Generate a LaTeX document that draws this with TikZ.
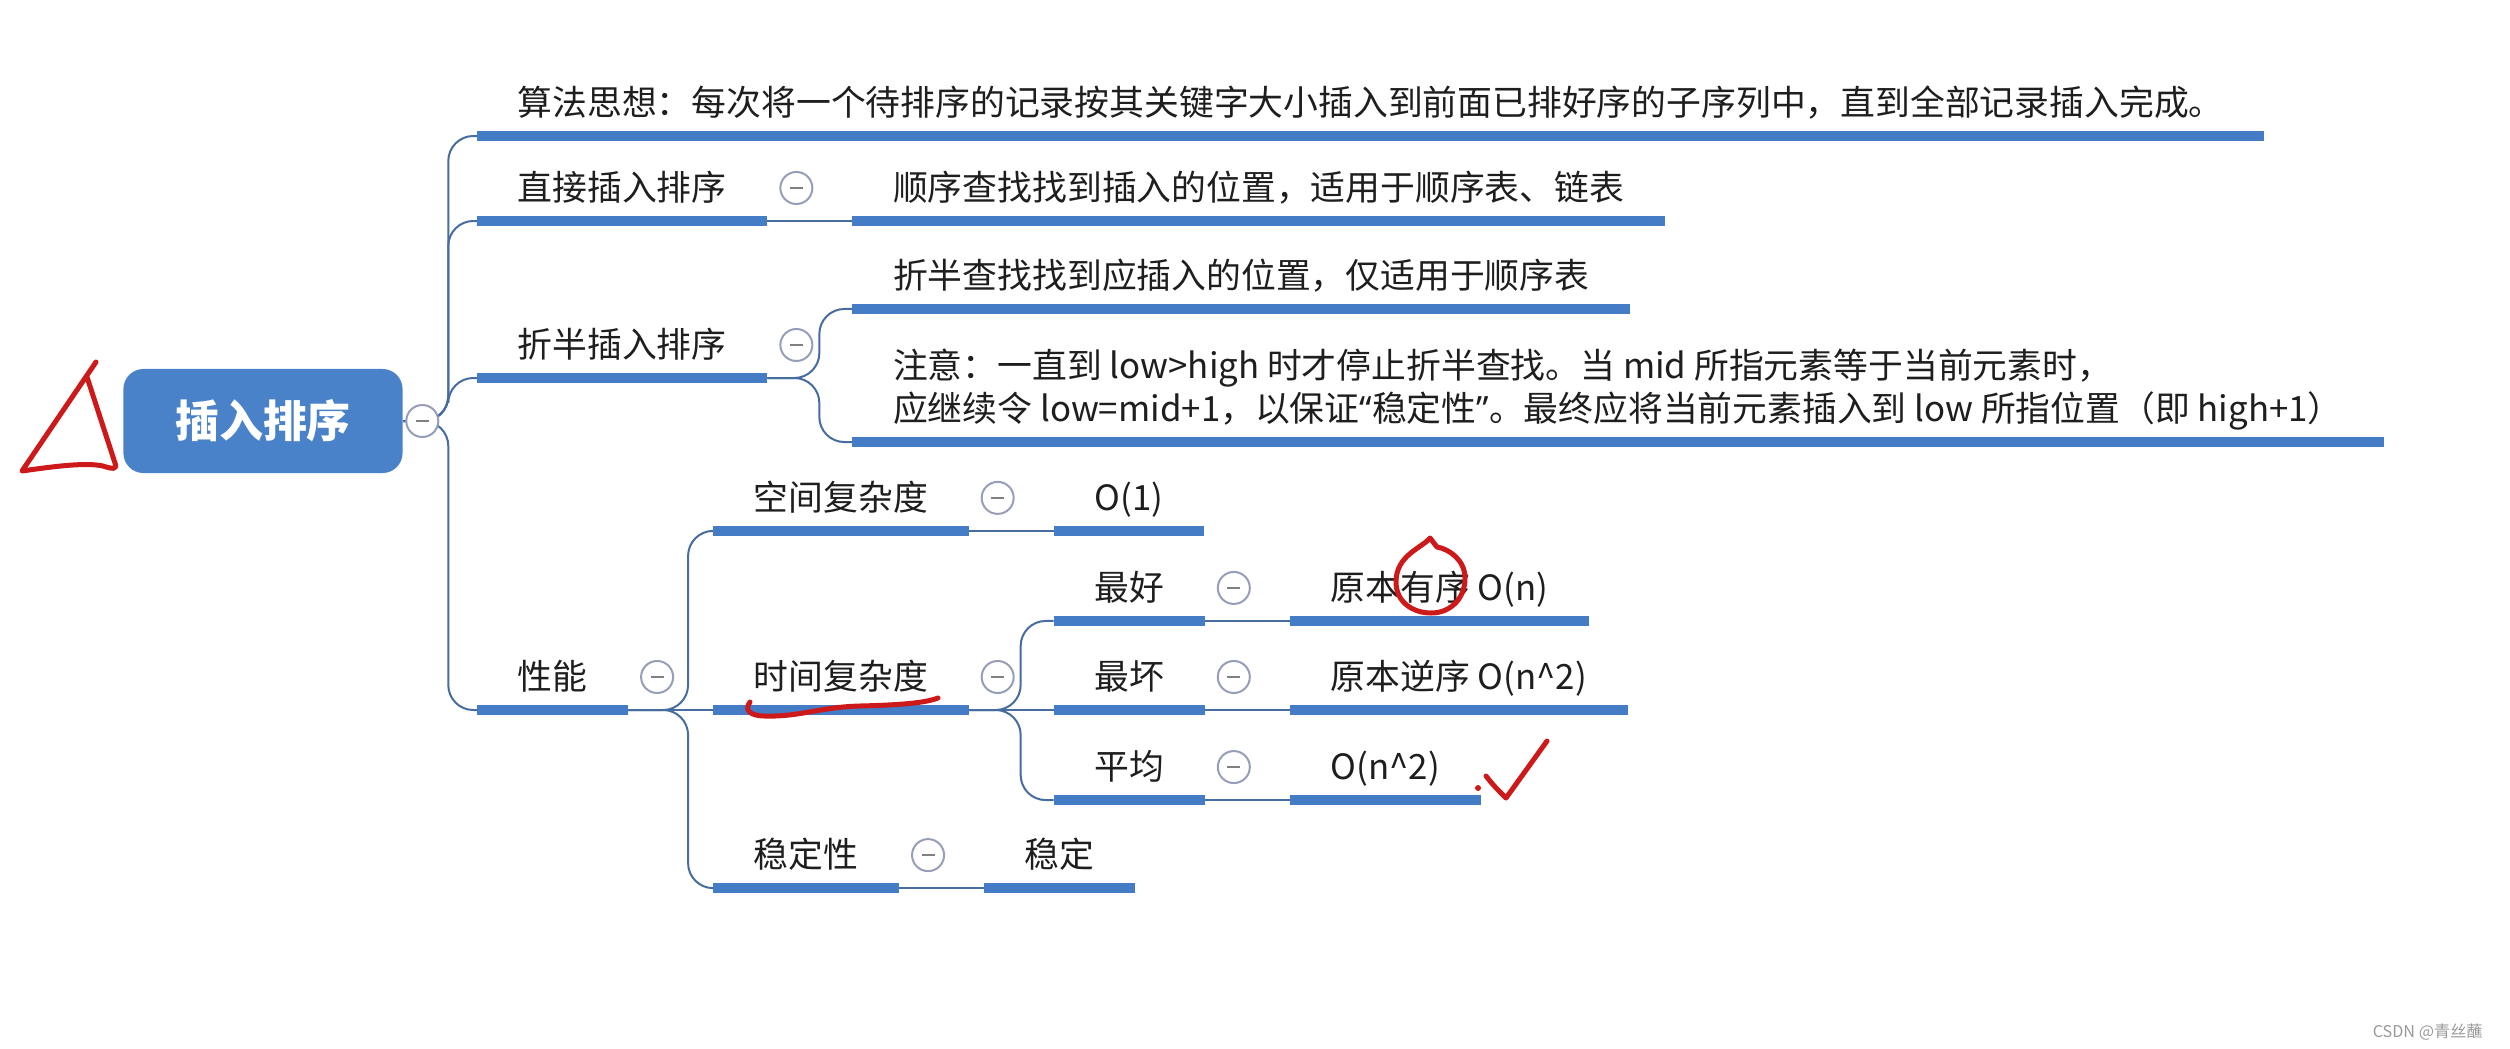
\documentclass[tikz,border=0pt]{standalone}
\usepackage{fontspec}
\setmainfont{Noto Sans CJK SC}
\newfontfamily\latinfont{Noto Sans}
\usepackage{tikz}
\usetikzlibrary{positioning, calc}
\definecolor{mapblue}{RGB}{68,124,197}
\definecolor{rootblue}{RGB}{74,130,201}
\definecolor{linkblue}{RGB}{70,108,160}
\definecolor{foldgray}{RGB}{150,158,185}
\definecolor{textgray}{RGB}{30,30,30}
\definecolor{inkred}{RGB}{205,25,25}
\newcommand{\mapfont}{\fontsize{9.9}{12.2}\selectfont}

\begin{document}
\begin{tikzpicture}[x=0.01cm, y=-0.01cm,
    root/.style={rectangle, rounded corners=0.2cm, fill=rootblue, text=white, minimum width=2.79cm, minimum height=1.04cm, font=\fontsize{12.5}{15}\selectfont\bfseries},
    topic/.style={anchor=south west, inner xsep=0.4cm, inner ysep=0.2cm, text depth=0pt, text=textgray, font=\mapfont, align=left},
    bar/.style={line width=0.095cm, mapblue},
    link/.style={line width=0.02cm, linkblue, rounded corners=0.25cm},
    fold/.style={circle, draw=foldgray, line width=0.02cm, fill=white, minimum size=0.32cm, inner sep=0pt,
      path picture={\draw[gray, line width=0.02cm] ([xshift=-0.065cm]path picture bounding box.center) -- ([xshift=0.065cm]path picture bounding box.center);}},
    ink/.style={inkred, line width=0.05cm, line cap=round, line join=round},
    watermark/.style={anchor=east, text=gray!80, font=\fontsize{4.6}{5}\selectfont}
  ]
  \useasboundingbox (0,0) rectangle (2510,1048);

  % root and first level
  \node[root] (root) at (263,421) {插入排序};
  \node[topic] (idea) at (477,136) {算法思想：每次将一个待排序的记录按其关键字大小插入到前面已排好序的子序列中，直到全部记录插入完成。};
  \node[topic] (direct) at (477,221) {直接插入排序};
  \node[topic] (half) at (477,378) {折半插入排序};
  \node[topic] (perf) at (477,710) {性能};

  % second level
  \node[topic, right=0.85cm of direct.south east, anchor=south west] (directnote) {顺序查找找到插入的位置，适用于顺序表、链表};
  \node[topic] (halfnote) at ([xshift=0.85cm, yshift=0.69cm]half.south east) {折半查找找到应插入的位置，仅适用于顺序表};
  \node[topic] (halfwarn) at ([xshift=0.85cm, yshift=-0.64cm]half.south east) {注意：一直到 low>high 时才停止折半查找。当 mid 所指元素等于当前元素时，\\应继续令 low=mid+1，以保证{\latinfont “}稳定性{\latinfont ”}。最终应将当前元素插入到 low 所指位置（即 high+1）};
  \node[topic] (space) at ([xshift=0.85cm, yshift=1.79cm]perf.south east) {空间复杂度};
  \node[topic, right=0.85cm of perf.south east, anchor=south west] (time) {时间复杂度};
  \node[topic] (stable) at ([xshift=0.85cm, yshift=-1.78cm]perf.south east) {稳定性};

  % third level
  \node[topic, right=0.85cm of space.south east, anchor=south west] (spaceval) {O(1)};
  \node[topic, right=0.85cm of stable.south east, anchor=south west] (stableval) {稳定};
  \node[topic] (best) at ([xshift=0.85cm, yshift=0.89cm]time.south east) {最好};
  \node[topic, right=0.85cm of time.south east, anchor=south west] (worst) {最坏};
  \node[topic] (avg) at ([xshift=0.85cm, yshift=-0.90cm]time.south east) {平均};
  \node[topic, right=0.85cm of best.south east, anchor=south west] (bestval) {原本有序 O(n)};
  \node[topic, right=0.85cm of worst.south east, anchor=south west] (worstval) {原本逆序 O(n\textasciicircum 2)};
  \node[topic, right=0.85cm of avg.south east, anchor=south west] (avgval) {O(n\textasciicircum 2)};

  % connectors
  \foreach \n in {idea,direct,half,perf}
    \draw[link] (root.east) -- ++(45,0) |- (\n.south west);
  \draw[link] (direct.south east) -- (directnote.south west);
  \foreach \n in {halfnote,halfwarn}
    \draw[link] (half.south east) -- ++(52,0) |- (\n.south west);
  \draw[link] (perf.south east) -- (time.south west);
  \foreach \n in {space,stable}
    \draw[link] (perf.south east) -- ++(60,0) |- (\n.south west);
  \draw[link] (time.south east) -- (worst.south west);
  \foreach \n in {best,avg}
    \draw[link] (time.south east) -- ++(52,0) |- (\n.south west);
  \foreach \n/\v in {space/spaceval,stable/stableval,best/bestval,worst/worstval,avg/avgval}
    \draw[link] (\n.south east) -- (\v.south west);

  % underline bars
  \foreach \n in {idea,direct,directnote,half,halfnote,halfwarn,perf,space,spaceval,time,stable,stableval,best,bestval,worst,worstval,avg,avgval}
    \draw[bar] (\n.south west) -- (\n.south east);

  % collapse buttons
  \node[fold] (foldroot) at ([xshift=0.19cm]root.east) {};
  \foreach \n in {direct,half,perf,space,time,stable,best,worst,avg}
    \node[fold] (fold\n) at ([xshift=0.29cm, yshift=0.33cm]\n.south east) {};

  % hand marks
  \draw[ink] (96,362) -- (22,471) .. controls (50,467) and (85,462) .. (103,466) .. controls (112,469) and (118,470) .. (115,463) -- (87,377);
  \draw[ink] (1430,538) .. controls (1422,548) and (1396,555) .. (1396,582) .. controls (1396,603) and (1414,613) .. (1431,613) .. controls (1451,613) and (1465,598) .. (1465,578) .. controls (1465,560) and (1449,549) .. (1437,547) -- cycle;
  \draw[ink] (750,702) .. controls (744,710) and (750,716) .. (765,716) .. controls (800,717) and (820,707) .. (860,706) .. controls (900,705) and (925,703) .. (938,698);
  \fill[inkred] (1478,788) circle (0.03cm);
  \draw[ink] (1486,776) .. controls (1494,786) .. (1506,798) -- (1547,741);

  \node[watermark] (csdn) at (2495,1032) {CSDN @青丝蘸};
\end{tikzpicture}
\end{document}
